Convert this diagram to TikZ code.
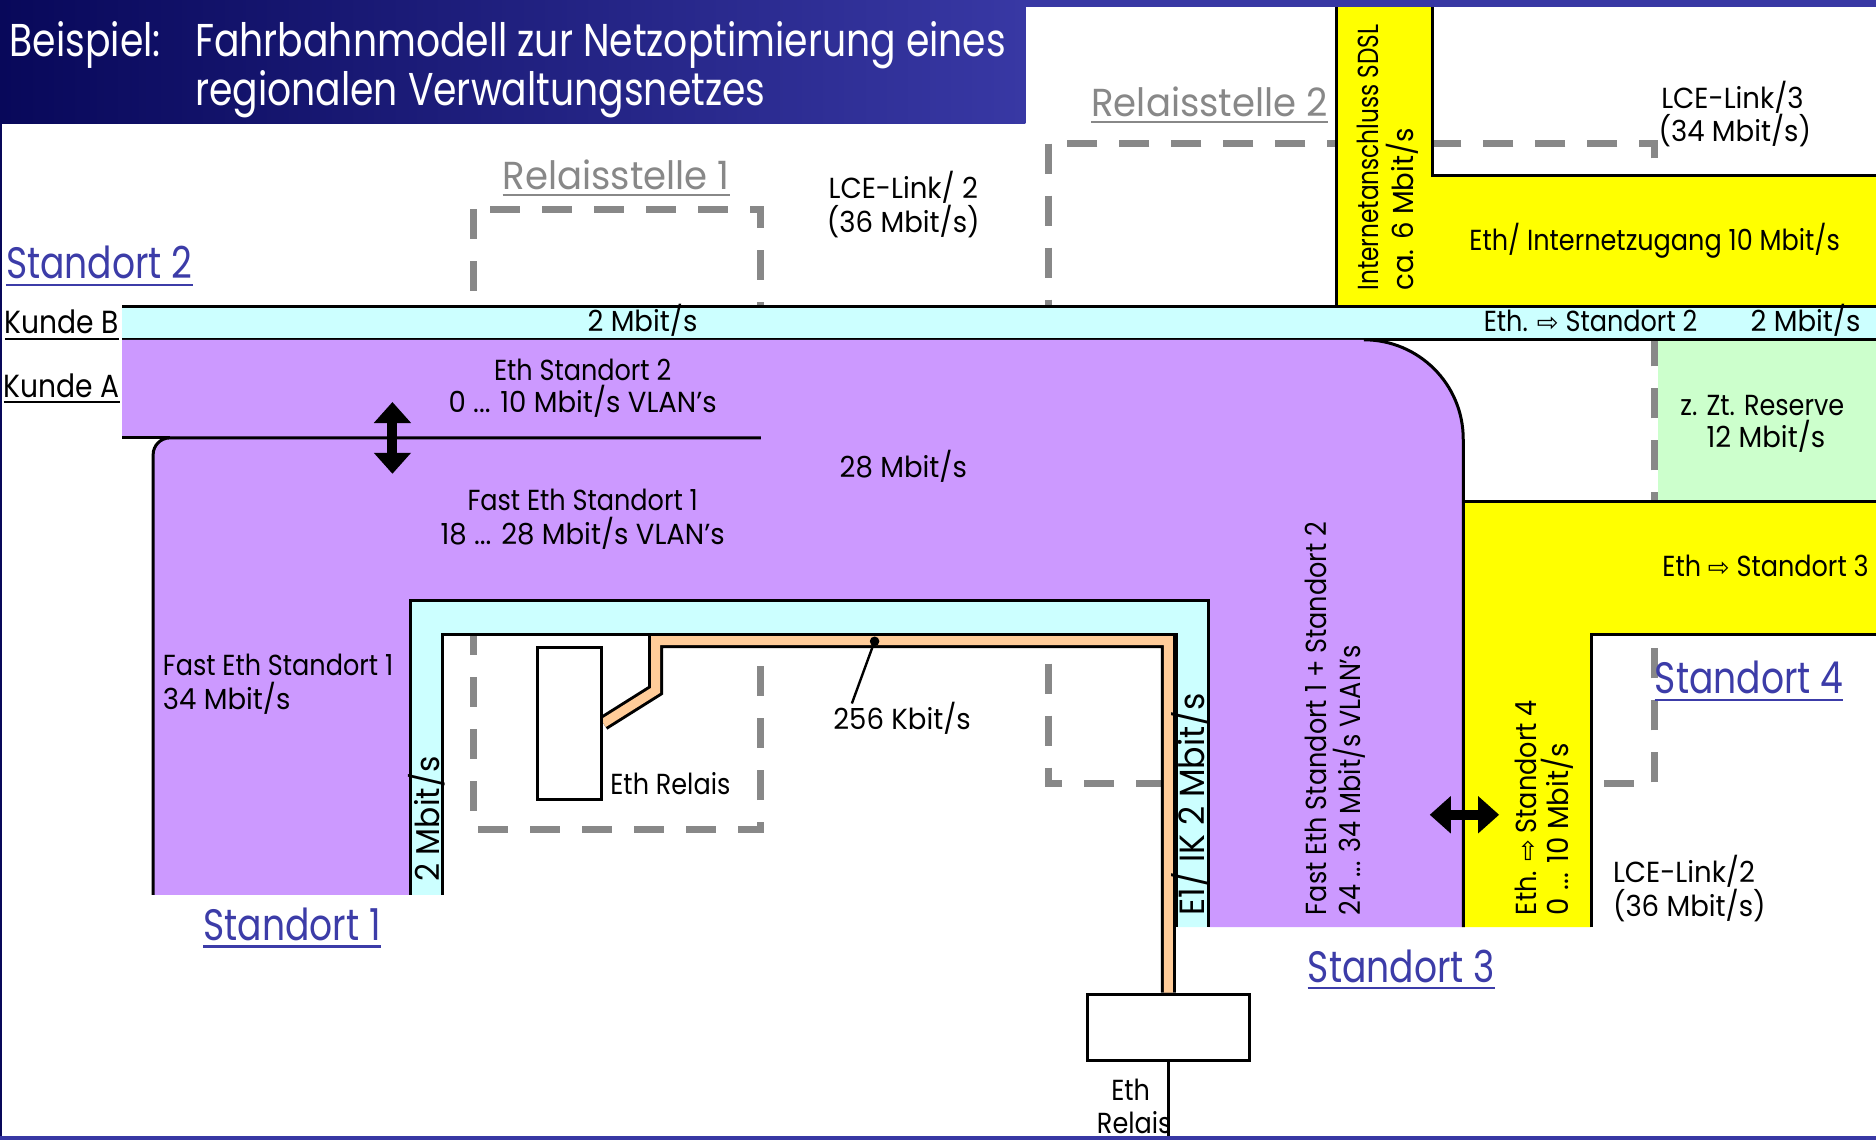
\documentclass[tikz,border=0pt]{standalone}
\usepackage{fontspec}
\setmainfont{Poppins}[FakeStretch=0.8]
\newfontfamily\wfont{Poppins}[FakeStretch=0.88]
\newfontfamily\bfontw{Poppins}[FakeStretch=0.95]
\newfontfamily\tfont{Poppins}[FakeStretch=0.82]
\newfontfamily\sym{DejaVu Sans}
\newcommand{\harr}{{\sym\fontsize{26}{28}\selectfont ⇨}}
\usetikzlibrary{arrows.meta}
\definecolor{lila}{HTML}{CC99FF}
\definecolor{hcyan}{HTML}{CCFFFF}
\definecolor{gelb}{HTML}{FFFF00}
\definecolor{hgruen}{HTML}{CCFFCC}
\definecolor{orng}{HTML}{FFCC99}
\definecolor{dgray}{HTML}{888888}
\definecolor{labblue}{HTML}{3C3CA8}
\definecolor{navyL}{HTML}{08085A}
\definecolor{navyR}{HTML}{3838A4}
\tikzset{
  bl/.style={line width=3pt, line join=miter},
  relay/.style={draw=dgray, line width=7pt, dash pattern=on 30pt off 22pt},
  txt/.style={font=\wfont\fontsize{29}{33}\selectfont, inner sep=0pt, align=center},
  txtw/.style={font=\bfontw\fontsize{29}{33}\selectfont, inner sep=0pt, align=center},
  kunde/.style={font=\wfont\fontsize{32}{36}\selectfont, inner sep=0pt},
  bandtxt/.style={font=\bfontw\fontsize{#1}{36}\selectfont, inner sep=0pt},
  ttl/.style={font=\tfont\fontsize{46}{50}\selectfont, inner sep=0pt, text=white},
  big/.style={font=\tfont\fontsize{44}{50}\selectfont, inner sep=0pt, text=labblue},
  rel/.style={font=\bfontw\fontsize{39}{46}\selectfont, inner sep=0pt, text=dgray},
  ulblue/.style={draw=labblue, line width=2.2pt},
  ulgray/.style={draw=dgray, line width=2.2pt},
  ulblack/.style={draw=black, line width=2.2pt},
  dbl/.style={line width=10pt, arrows={Triangle[width=36pt,length=21pt]-Triangle[width=36pt,length=21pt]}},
  boxn/.style={draw, line width=3pt, fill=white, inner sep=0pt}
}
\begin{document}
\begin{tikzpicture}[x=1.1964pt,y=-1.1964pt]
\useasboundingbox (0,0) rectangle (1568,956);
\fill[white] (0,0) rectangle (1568,956);

% relay stations (dashed, partly covered by the bands)
\draw[relay] (396,175) rectangle (636,693);
\draw[relay] (876,120) rectangle (1383,655);

% green reserve
\fill[hgruen] (1386,284) rectangle (1568,419);

% yellow upper
\fill[gelb] (1117,6) -- (1197,6) -- (1197,147) -- (1568,147) -- (1568,256) -- (1117,256) -- cycle;
\draw[bl] (1117,6) -- (1117,256);
\draw[bl] (1197,6) -- (1197,147) -- (1568,147);

% yellow lower
\fill[gelb] (1223,419) -- (1568,419) -- (1568,530) -- (1330,530) -- (1330,775) -- (1223,775) -- cycle;
\draw[bl] (1223,419) -- (1568,419);
\draw[bl] (1330,775) -- (1330,530) -- (1568,530);

% cyan band Kunde B
\fill[hcyan] (102,256) rectangle (1568,284);
\draw[bl] (102,256) -- (1568,256);
\draw[bl] (102,284) -- (1568,284);

% purple region
\fill[lila] (102,284) -- (1140,284) arc[start angle=-90,end angle=0,radius=83] -- (1223,775) -- (1010,775) -- (1010,502) -- (343,502) -- (343,748) -- (128,748) -- (128,380) arc[start angle=180,end angle=270,radius=14] -- (102,366) -- cycle;
\draw[bl] (1140,284) arc[start angle=-90,end angle=0,radius=83] -- (1223,775);
\draw[bl] (128,748) -- (128,380) arc[start angle=180,end angle=270,radius=14] -- (636,366);
\draw[bl] (102,366) -- (142,366);

% cyan loop Standort 1
\fill[hcyan] (343,748) -- (343,502) -- (1010,502) -- (1010,775) -- (983,775) -- (983,530) -- (370,530) -- (370,748) -- cycle;
\draw[bl] (343,748) -- (343,502) -- (1010,502) -- (1010,775);
\draw[bl] (370,748) -- (370,530) -- (983,530) -- (983,775);

% relay boxes
\node[boxn, minimum width=64.6pt, minimum height=152pt] (relA) at (476,604.5) {};
\node[boxn, minimum width=161.5pt, minimum height=65.8pt] (relB) at (976.5,858.5) {};

% orange 256 kbit line
\draw[line width=15pt, line join=miter, black] (relA.east) -- (548,577) -- (548,535.5) -- (976.5,535.5) -- (relB.north);
\draw[line width=9pt, line join=miter, orng] (relA.east) -- (548,577) -- (548,535.5) -- (976.5,535.5) -- (relB.north);
\node[boxn, minimum width=64.6pt, minimum height=152pt] at (relA) {};
\node[boxn, minimum width=161.5pt, minimum height=65.8pt] at (relB) {};
\draw[line width=3pt] (relB.south) -- (976.5,950);

% leader 256 Kbit/s
\coordinate (dot) at (731,536);
\fill (dot) circle[radius=4];
\node[txtw, anchor=base] (kb) at (754,610) {256 Kbit/s};
\draw[line width=2.4pt] (dot) -- (712,588);

% double arrows
\draw[dbl] (328,336) -- (328,396);
\draw[dbl] (1195,681) -- (1253,681);

% labels
\node[rel, anchor=base] (r1) at (515,158) {Relaisstelle 1};
\draw[ulgray] ([yshift=-6pt]r1.base west) -- ([yshift=-6pt]r1.base east);
\node[rel, anchor=base] (r2) at (1011,97) {Relaisstelle 2};
\draw[ulgray] ([yshift=-6pt]r2.base west) -- ([yshift=-6pt]r2.base east);

\node[big, anchor=base west] (s2) at (5,233) {Standort 2};
\draw[ulblue] ([yshift=-6pt]s2.base west) -- ([yshift=-6pt]s2.base east);
\node[big, anchor=base west] (s1) at (170,786) {Standort 1};
\draw[ulblue] ([yshift=-6pt]s1.base west) -- ([yshift=-6pt]s1.base east);
\node[big, anchor=base west] (s3) at (1093,821) {Standort 3};
\draw[ulblue] ([yshift=-6pt]s3.base west) -- ([yshift=-6pt]s3.base east);
\node[big, anchor=base west] (s4) at (1383,580) {Standort 4};
\draw[ulblue] ([yshift=-6pt]s4.base west) -- ([yshift=-6pt]s4.base east);

\node[kunde, anchor=base west] (kB) at (4,279) {Kunde B};
\draw[ulblack] ([yshift=-5pt]kB.base west) -- ([yshift=-5pt]kB.base east);
\node[kunde, anchor=base west] (kA) at (3,332) {Kunde A};
\draw[ulblack] ([yshift=-5pt]kA.base west) -- ([yshift=-5pt]kA.base east);

\node[txtw, anchor=base] (lce2a) at (755,166) {LCE-Link/ 2};
\node[txtw, anchor=base] (lce2b) at (755,194) {(36 Mbit/s)};
\node[txtw, anchor=base] (lce3a) at (1448,91) {LCE-Link/3};
\node[txtw, anchor=base] (lce3b) at (1450,118) {(34 Mbit/s)};
\node[txtw, anchor=base west] (lce4a) at (1348,738) {LCE-Link/2};
\node[txtw, anchor=base west] (lce4b) at (1348,766) {(36 Mbit/s)};

\node[txtw, anchor=base] (kb2) at (537,277) {2 Mbit/s};
\node[txt, anchor=base west] (eth2) at (1240,277) {Eth. \harr{} Standort 2};
\node[txtw, anchor=base west] (eth2r) at (1463,277) {2 Mbit/s};
\node[txt, anchor=base west] (inet) at (1228,209) {Eth/ Internetzugang 10 Mbit/s};
\node[bandtxt=29, anchor=base west, rotate=90] (sdsl) at (1152,243) {\rmfamily Internetanschluss SDSL};
\node[bandtxt=29, anchor=base west, rotate=90] (sdsl2) at (1181,243) {ca. 6 Mbit/s};

\node[txt, anchor=base] (es2a) at (487,318) {Eth Standort 2};
\node[txtw, anchor=base] (es2b) at (487,345) {0 ... 10 Mbit/s VLAN’s};
\node[txt, anchor=base] (fe1a) at (487,427) {Fast Eth Standort 1};
\node[txtw, anchor=base] (fe1b) at (487,455) {18 ... 28 Mbit/s VLAN’s};
\node[txtw, anchor=base] (m28) at (755,399) {28 Mbit/s};
\node[txt, anchor=base west] (fe34a) at (136,565) {Fast Eth Standort 1};
\node[txtw, anchor=base west] (fe34b) at (136,593) {34 Mbit/s};
\node[txt, anchor=base west] (erel) at (510,664) {Eth Relais};

\node[txt, anchor=base] (resa) at (1473,347) {z. Zt. Reserve};
\node[txtw, anchor=base] (resb) at (1476,374) {12 Mbit/s};
\node[txt, anchor=base east] (eth3) at (1562,482) {Eth \harr{} Standort 3};

\node[bandtxt=33, anchor=base west, rotate=90] (v2m) at (367,737) {2 Mbit/s};
\node[bandtxt=35, anchor=base west, rotate=90] (e1ik) at (1007,765) {E1/ IK 2 Mbit/s};
\node[txt, anchor=base west, rotate=90] (fe12a) at (1109,765) {Fast Eth Standort 1 + Standort 2};
\node[txt, anchor=base west, rotate=90] (fe12b) at (1137,765) {24 ... 34 Mbit/s VLAN’s};
\node[txt, anchor=base west, rotate=90] (e4a) at (1284,765) {Eth. \harr{} Standort 4};
\node[txtw, anchor=base west, rotate=90] (e4b) at (1311,765) {0 ... 10 Mbit/s};

\node[txt, anchor=base] (ethB1) at (945,920) {Eth};
\node[txt, anchor=base] (ethB2) at (948,947) {Relais};

% banner and frame
\shade[left color=navyL, right color=navyR] (0,0) rectangle (857,103);
\fill[navyR] (857,0) rectangle (1568,6);
\fill[navyL] (0,103) rectangle (2,950);
\fill[navyR] (0,949.5) rectangle (1568,953);
\node[ttl, anchor=base west] (t1) at (8,47) {Beispiel:};
\node[ttl, anchor=base west] (t2) at (163,47) {Fahrbahnmodell zur Netzoptimierung eines};
\node[ttl, anchor=base west] (t3) at (163,88) {regionalen Verwaltungsnetzes};
\end{tikzpicture}
\end{document}
